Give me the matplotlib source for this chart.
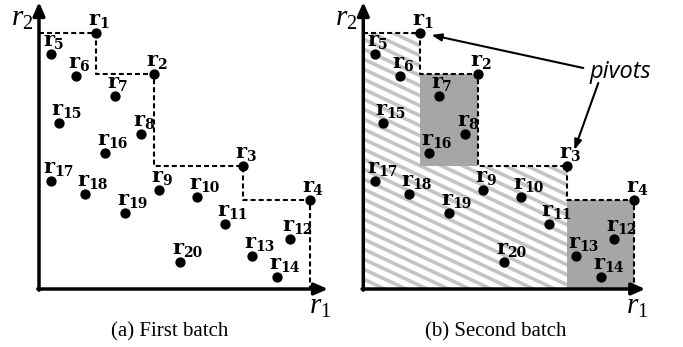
import numpy as np
import matplotlib
matplotlib.use("Agg")
import matplotlib.pyplot as plt
from matplotlib.patches import Polygon, Rectangle

plt.rcParams['mathtext.fontset'] = 'custom'
plt.rcParams['mathtext.it'] = 'Liberation Serif:italic'
plt.rcParams['mathtext.rm'] = 'Liberation Serif'
plt.rcParams['lines.scale_dashes'] = False

# datos (r1, r2) de las 20 tuplas
nombres = [f"r{i}" for i in range(1, 21)]
x_r1 = [57, 115, 204, 271, 12, 37, 76, 102, 120, 158,
        186, 251, 213, 238, 20, 66, 12, 46, 86, 141]
y_r2 = [256, 215, 123, 89, 235, 213, 193, 155, 99, 92,
        65, 50, 33, 12, 166, 136, 108, 95, 76, 27]
pivotes = [0, 1, 2, 3]   # r1..r4 forman el skyline

titulos = ["(a) First batch", "(b) Second batch"]

fig = plt.figure(figsize=(6.83, 3.47), dpi=100)
W, H = 683, 347


def escalera(ax):
    px = [x_r1[i] for i in pivotes]
    py = [y_r2[i] for i in pivotes]
    xs, ys = [0], [py[0]]
    for k in range(len(px)):
        xs.append(px[k]); ys.append(py[k])
        sig = py[k + 1] if k + 1 < len(px) else 0
        xs.append(px[k]); ys.append(sig)
    ax.plot(xs, ys, color='black', lw=1.5, linestyle=(0, (3.6, 2.2)), zorder=3)


def ejes(ax, xmax):
    flecha = dict(arrowstyle='-|>,head_length=0.8,head_width=0.35', lw=2.5,
                  color='black', shrinkA=0, shrinkB=0)
    ax.annotate('', xy=(xmax, 0), xytext=(-1.2, 0), arrowprops=flecha, zorder=6)
    ax.annotate('', xy=(0, 287), xytext=(0, -1.2), arrowprops=flecha, zorder=6)
    ax.text(-17, 271, r'$r_{\mathit{2}}$', fontsize=21, ha='center', va='center')
    ax.text(xmax - 8, -17, r'$r_{\mathit{1}}$', fontsize=21, ha='center', va='center')


def puntos(ax):
    ax.plot(x_r1, y_r2, 'o', color='black', ms=6.4, zorder=5)
    for i, n in enumerate(nombres):
        ax.annotate('r', (x_r1[i], y_r2[i]), xytext=(-1.8, 5.6),
                    textcoords='offset points', fontsize=15, family='DejaVu Serif',
                    weight='bold', ha='center', va='baseline', zorder=6)
        ax.annotate(n[1:], (x_r1[i], y_r2[i]), xytext=(2.0, 3.4),
                    textcoords='offset points', fontsize=10, family='DejaVu Serif',
                    weight='bold', ha='left', va='baseline', zorder=6)


ax1 = fig.add_axes([39 / W, 58 / H, 300 / W, 289 / H])
ax2 = fig.add_axes([363.3 / W, 58 / H, 300 / W, 289 / H])
for ax in (ax1, ax2):
    ax.set_xlim(0, 300)
    ax.set_ylim(0, 289)
    ax.axis('off')

# (a)
escalera(ax1)
ejes(ax1, 289)
puntos(ax1)

# (b) zonas rayadas y grises
p1, p2, p3, p4 = [(x_r1[i], y_r2[i]) for i in pivotes]
region = Polygon([(0, 0), (0, p1[1]), (p1[0], p1[1]), (p1[0], p3[1]),
                  (p3[0], p3[1]), (p3[0], 0)], closed=True,
                 facecolor='white', edgecolor='none', zorder=1)
ax2.add_patch(region)
for c in np.arange(-20, 450, 10):
    xx = np.array([-10, 320])
    l, = ax2.plot(xx, c - 0.47 * xx, color='#c4c4c4', lw=2.6, zorder=1.5,
                  solid_capstyle='butt')
    l.set_clip_path(region)

gris = '#a6a6a6'
ax2.add_patch(Rectangle((p1[0], p3[1]), p2[0] - p1[0], p2[1] - p3[1],
                        facecolor=gris, edgecolor='none', zorder=2))
ax2.add_patch(Rectangle((p3[0], 0), p4[0] - p3[0], p4[1],
                        facecolor=gris, edgecolor='none', zorder=2))
escalera(ax2)
ejes(ax2, 282)
puntos(ax2)

flecha_p = dict(arrowstyle='-|>,head_length=0.6,head_width=0.22', lw=1.5,
                color='black', shrinkA=0, shrinkB=0)
ax2.text(257, 217, 'pivots', fontsize=17, style='italic', family='Open Sans',
         ha='center', va='center')
ax2.annotate('', xy=(p1[0] + 11, p1[1] - 2), xytext=(220, 221), arrowprops=flecha_p)
ax2.annotate('', xy=(p3[0] + 7, p3[1] + 16), xytext=(235, 206), arrowprops=flecha_p)

fig.text(170 / W, 1 - 331.7 / H, titulos[0], ha='center', va='center',
         family='Liberation Serif', fontsize=15)
fig.text(495.7 / W, 1 - 331.7 / H, titulos[1], ha='center', va='center',
         family='Liberation Serif', fontsize=15)

fig.savefig('out.png', dpi=100)
